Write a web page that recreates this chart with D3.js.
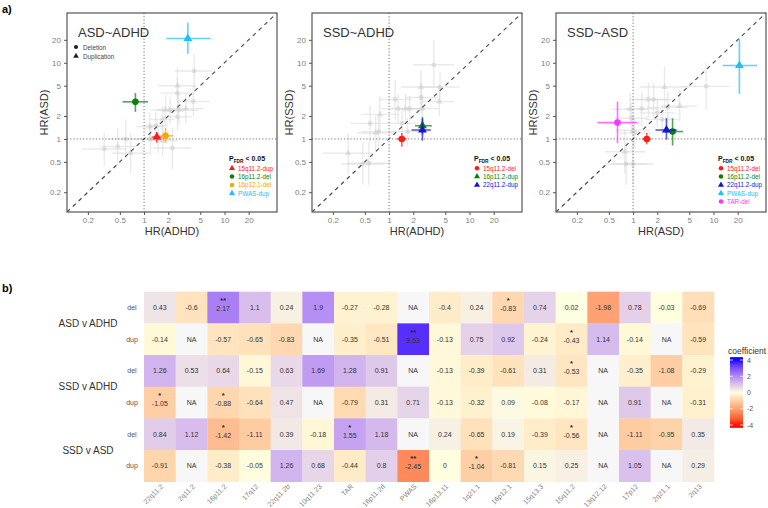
<!DOCTYPE html>
<html><head><meta charset="utf-8">
<script src="https://cdn.jsdelivr.net/npm/d3@7"></script>
<style>body{margin:0;background:#fff}svg{font-family:"Liberation Sans",Arial,sans-serif}</style>
</head><body><svg id="c" width="768" height="508"></svg>
<script>
// ---------------- DATA ----------------
const hrTicks = [0.2, 0.5, 1, 2, 5, 10, 20];
const panelTitles = ["ASD~ADHD", "SSD~ADHD", "SSD~ASD"];
const panelXLabels = ["HR(ADHD)", "HR(ADHD)", "HR(ASD)"];
const panelYLabels = ["HR(ASD)", "HR(SSD)", "HR(SSD)"];

// highlighted CNVs (P_FDR < 0.05): [name, colour, shape, x, xlo, xhi, y, ylo, yhi]
const sig1 = [
  ["15q11.2-dup", "#ff1a1a", "tri", 1.44, 1.25, 1.66, 1.06, 0.89, 1.23],
  ["16p11.2-del", "#0a800a", "circ", 0.78, 0.54, 1.12, 3.07, 2.27, 4.0],
  ["16p12.1-del", "#ffa500", "circ", 1.85, 1.6, 2.3, 1.1, 0.89, 1.4],
  ["PWAS-dup", "#1ec0f5", "tri", 3.5, 1.9, 6.7, 20.8, 13.1, 33.6]
];
const sig2 = [
  ["15q11.2-del", "#ff1a1a", "circ", 1.44, 1.25, 1.65, 1.0, 0.79, 1.2],
  ["16p11.2-dup", "#0a800a", "tri", 2.6, 2.1, 3.4, 1.49, 1.13, 1.95],
  ["22q11.2-dup", "#1515d0", "tri", 2.6, 1.9, 3.3, 1.31, 0.95, 1.85]
];
const sig3 = [
  ["15q11.2-del", "#ff1a1a", "circ", 1.48, 1.3, 1.7, 1.0, 0.85, 1.2],
  ["16p11.2-del", "#0a800a", "circ", 3.1, 2.4, 4.2, 1.25, 0.82, 1.87],
  ["22q11.2-dup", "#1515d0", "tri", 2.6, 1.9, 3.5, 1.31, 0.98, 1.88],
  ["PWAS-dup", "#1ec0f5", "tri", 21, 13, 35, 9.2, 3.9, 20.5],
  ["TAR-del", "#ff33ff", "circ", 0.64, 0.36, 1.14, 1.64, 0.88, 3.1]
];
// other CNVs (grey): [x, xlo, xhi, y, ylo, yhi]
const grey1 = [
  [4.2,2.4,7.0,7.8,4.5,13],[2.6,1.5,4.5,5.0,3.0,8.5],[2.6,1.6,4.2,4.0,2.5,6.5],
  [4.1,2.6,6.5,3.1,2.0,5.0],[1.85,1.2,2.8,2.4,1.5,3.8],[2.1,1.4,3.2,2.4,1.6,3.6],
  [2.7,1.5,4.8,2.4,1.5,3.9],[3.3,2.0,5.5,2.5,1.6,4.0],[2.6,1.7,3.9,1.95,1.3,2.9],
  [1.7,1.2,2.4,1.8,1.2,2.7],[1.18,0.8,1.7,1.45,0.95,2.2],[1.4,1.0,2.0,1.5,1.0,2.3],
  [1.2,0.8,1.8,1.0,0.6,1.6],[1.5,1.0,2.2,1.0,0.65,1.55],[2.25,1.3,3.9,0.76,0.4,1.4],
  [0.59,0.35,1.0,1.0,0.55,1.8],[0.47,0.28,0.8,0.8,0.45,1.4],[0.32,0.17,0.6,0.74,0.45,1.2],
  [0.68,0.4,1.15,0.65,0.35,1.2],[1.7,1.1,2.6,0.95,0.6,1.5]
];
const grey2 = [
  [3.6,2.0,6.5,9.4,5.0,20],[2.5,1.4,4.5,4.8,2.8,8.0],[4.3,2.6,7.5,4.8,3.0,7.5],
  [2.5,1.6,4.0,3.5,2.2,5.5],[4.2,2.6,6.5,3.1,2.0,4.8],[1.19,0.75,1.9,3.3,1.8,6.0],
  [1.3,0.8,2.1,2.5,1.6,3.9],[1.6,1.0,2.5,2.5,1.6,3.9],[1.8,1.2,2.8,2.5,1.7,3.7],
  [2.6,1.6,4.2,2.5,1.6,3.8],[0.77,0.45,1.3,2.1,1.2,3.6],[0.58,0.33,1.0,1.6,0.9,2.8],
  [0.74,0.45,1.2,1.25,0.75,2.1],[0.68,0.4,1.15,1.2,0.7,2.0],[1.7,1.1,2.6,1.25,0.8,1.9],
  [1.45,0.95,2.2,1.6,1.05,2.4],[0.31,0.15,0.65,0.65,0.35,1.2],[0.56,0.3,1.05,0.48,0.25,0.9],
  [0.47,0.25,0.9,0.47,0.25,0.9]
];
const grey3 = [
  [8.1,4.0,16,4.9,2.4,10],[2.46,1.2,5.0,4.8,2.6,9.0],[1.55,0.9,2.7,3.3,1.9,5.5],
  [1.8,1.05,3.0,3.3,2.0,5.4],[0.92,0.55,1.55,2.46,1.5,4.0],[1.28,0.8,2.1,2.5,1.5,4.1],
  [2.7,1.5,4.8,2.6,1.6,4.2],[3.8,2.3,6.3,2.7,1.7,4.3],[0.96,0.6,1.55,1.87,1.15,3.0],
  [2.0,1.2,3.3,2.2,1.4,3.4],[1.0,0.6,1.6,1.3,0.8,2.1],[1.05,0.65,1.7,1.2,0.75,1.9],
  [2.3,1.4,3.7,1.8,1.15,2.8],[0.79,0.45,1.4,0.68,0.35,1.3],[0.82,0.45,1.5,0.47,0.25,0.9],
  [1.0,0.55,1.8,0.47,0.25,0.9]
];

// heatmap
const heatCols = ["22q11.2","2q11.2","16p11.2","17q12","22q11.2b","10q11.23","TAR","16p11.2d","PWAS","16p13.11","1q21.1","16p12.1","15q13.3","15q11.2","13q12.12","17p12","2q21.1","2q13"];
const heatGroups = ["ASD v ADHD", "SSD v ADHD", "SSD v ASD"];
const heatTypes = ["del", "dup"];
const heatRow1 = [0.43,-0.6,2.17,1.1,0.24,1.9,-0.27,-0.28,null,-0.4,0.24,-0.83,0.74,0.02,-1.98,0.78,-0.03,-0.69];
const heatRow2 = [-0.14,null,-0.57,-0.65,-0.83,null,-0.35,-0.51,3.53,-0.13,0.75,0.92,-0.24,-0.43,1.14,-0.14,null,-0.59];
const heatRow3 = [1.26,0.53,0.64,-0.15,0.63,1.69,1.28,0.91,null,-0.13,-0.39,-0.61,0.31,-0.53,null,-0.35,-1.08,-0.29];
const heatRow4 = [-1.05,null,-0.88,-0.64,0.47,null,-0.79,0.31,0.71,-0.13,-0.32,0.09,-0.08,-0.17,null,0.91,null,-0.31];
const heatRow5 = [0.84,1.12,-1.42,-1.11,0.39,-0.18,1.55,1.18,null,0.24,-0.65,0.19,-0.39,-0.56,null,-1.11,-0.95,0.35];
const heatRow6 = [-0.91,null,-0.38,-0.05,1.26,0.68,-0.44,0.8,-2.45,0,-1.04,-0.81,0.15,0.25,null,1.05,null,0.29];
const starRow1 = ["","","**","","","","","","","","","*","","","","","",""];
const starRow2 = ["","","","","","","","","**","","","","","*","","","",""];
const starRow3 = ["","","","","","","","","","","","","","*","","","",""];
const starRow4 = ["*","","*","","","","","","","","","","","","","","",""];
const starRow5 = ["","","*","","","","*","","","","","","","*","","","",""];
const starRow6 = ["","","","","","","","","**","","*","","","","","","",""];
const legendTicks = [4, 2, 0, -2, -4];

// ---------------- DRAW ----------------
const svg = d3.select("#c");
svg.append("text").attr("x", 2).attr("y", 13).attr("font-size", 11).attr("font-weight", "bold").text("a)");
svg.append("text").attr("x", 2).attr("y", 292).attr("font-size", 11).attr("font-weight", "bold").text("b)");

const panelLeft = [67, 312, 556];
const pTop = 13, pBot = 212, pW = 210;
const sigs = [sig1, sig2, sig3], greys = [grey1, grey2, grey3];
const dom = [0.11, 45];

function sym(shape, size) {
  return d3.symbol().type(shape === "tri" ? d3.symbolTriangle : d3.symbolCircle).size(size)();
}

panelLeft.forEach((L, pi) => {
  const x = d3.scaleLog().domain(dom).range([L, L + pW]);
  const y = d3.scaleLog().domain(dom).range([pBot, pTop]);
  const g = svg.append("g");
  const clipId = "clip" + pi;
  svg.append("clipPath").attr("id", clipId).append("rect").attr("x", L).attr("y", pTop).attr("width", pW).attr("height", pBot - pTop);
  const inner = g.append("g").attr("clip-path", `url(#${clipId})`);

  greys[pi].forEach((d, i) => {
    inner.append("line").attr("x1", x(d[1])).attr("x2", x(d[2])).attr("y1", y(d[3])).attr("y2", y(d[3]))
      .attr("stroke", "#d9d9d9").attr("stroke-opacity", 0.55).attr("stroke-width", 1.4);
    inner.append("line").attr("x1", x(d[0])).attr("x2", x(d[0])).attr("y1", y(d[4])).attr("y2", y(d[5]))
      .attr("stroke", "#d9d9d9").attr("stroke-opacity", 0.55).attr("stroke-width", 1.4);
  });
  greys[pi].forEach((d, i) => {
    inner.append("path").attr("d", sym(i % 3 === 1 ? "tri" : "circ", 18))
      .attr("transform", `translate(${x(d[0])},${y(d[3])})`).attr("fill", "#cfcfcf").attr("fill-opacity", 0.6);
  });

  inner.append("line").attr("x1", x(1)).attr("x2", x(1)).attr("y1", pTop).attr("y2", pBot)
    .attr("stroke", "#666").attr("stroke-width", 0.9).attr("stroke-dasharray", "1.2,2");
  inner.append("line").attr("x1", L).attr("x2", L + pW).attr("y1", y(1)).attr("y2", y(1))
    .attr("stroke", "#666").attr("stroke-width", 0.9).attr("stroke-dasharray", "1.2,2");
  inner.append("line").attr("x1", x(dom[0])).attr("y1", y(dom[0])).attr("x2", x(dom[1])).attr("y2", y(dom[1]))
    .attr("stroke", "#444").attr("stroke-width", 1.1).attr("stroke-dasharray", "4,4");

  sigs[pi].forEach(d => {
    inner.append("line").attr("x1", x(d[4])).attr("x2", x(d[5])).attr("y1", y(d[6])).attr("y2", y(d[6]))
      .attr("stroke", d[1]).attr("stroke-opacity", 0.7).attr("stroke-width", 1.6);
    inner.append("line").attr("x1", x(d[3])).attr("x2", x(d[3])).attr("y1", y(d[7])).attr("y2", y(d[8]))
      .attr("stroke", d[1]).attr("stroke-opacity", 0.7).attr("stroke-width", 1.6);
    inner.append("path").attr("d", sym(d[2], 34)).attr("transform", `translate(${x(d[3])},${y(d[6])})`).attr("fill", d[1]);
  });

  g.append("rect").attr("x", L).attr("y", pTop).attr("width", pW).attr("height", pBot - pTop)
    .attr("fill", "none").attr("stroke", "#555").attr("stroke-width", 1.2);

  const fmt = d => String(d);
  const ax = g.append("g").attr("transform", `translate(0,${pBot})`)
    .call(d3.axisBottom(x).tickValues(hrTicks).tickFormat(fmt).tickSize(3).tickPadding(2));
  const ay = g.append("g").attr("transform", `translate(${L},0)`)
    .call(d3.axisLeft(y).tickValues(hrTicks).tickFormat(fmt).tickSize(3).tickPadding(3));
  [ax, ay].forEach(a => {
    a.select(".domain").remove();
    a.selectAll(".tick line").attr("stroke", "#555");
    a.selectAll(".tick text").attr("fill", "#808080").attr("font-size", 8).attr("font-family", "Liberation Sans, Arial, sans-serif");
  });

  g.append("text").attr("x", L + pW / 2).attr("y", 235).attr("text-anchor", "middle")
    .attr("font-size", 11).attr("fill", "#333").text(panelXLabels[pi]);
  g.append("text").attr("transform", `translate(${L - 19},${(pTop + pBot) / 2}) rotate(-90)`).attr("text-anchor", "middle")
    .attr("font-size", 11).attr("fill", "#333").text(panelYLabels[pi]);

  g.append("text").attr("x", L + 11).attr("y", 37).attr("font-size", 13).attr("fill", "#333").text(panelTitles[pi]);

  if (pi === 0) {
    g.append("path").attr("d", sym("circ", 14)).attr("transform", `translate(${L + 9},47)`).attr("fill", "#222");
    g.append("text").attr("x", L + 16).attr("y", 49.5).attr("font-size", 6.3).attr("fill", "#444").text("Deletion");
    g.append("path").attr("d", sym("tri", 14)).attr("transform", `translate(${L + 9},56)`).attr("fill", "#222");
    g.append("text").attr("x", L + 16).attr("y", 58.5).attr("font-size", 6.3).attr("fill", "#444").text("Duplication");
  }

  const lx = L + 162;
  const t = g.append("text").attr("x", lx).attr("y", 161).attr("font-size", 7).attr("font-weight", "bold").attr("fill", "#111");
  t.append("tspan").text("P");
  t.append("tspan").attr("font-size", 4.8).attr("dy", 1.5).text("FDR");
  t.append("tspan").attr("dy", -1.5).text(" < 0.05");
  sigs[pi].forEach((d, i) => {
    const cy = 168.3 + i * 8.3;
    g.append("path").attr("d", sym(d[2], 16)).attr("transform", `translate(${lx + 3},${cy})`).attr("fill", d[1]);
    g.append("text").attr("x", lx + 9).attr("y", cy + 2.3).attr("font-size", 6.3).attr("fill", d[1]).text(d[0]);
  });
});

// ---------------- HEATMAP ----------------
const heatVals = [heatRow1, heatRow2, heatRow3, heatRow4, heatRow5, heatRow6];
const heatStars = [starRow1, starRow2, starRow3, starRow4, starRow5, starRow6];
const rowKeys = d3.range(6);
const hx = d3.scaleBand().domain(heatCols).range([144, 714]);
const hy = d3.scaleBand().domain(rowKeys).range([291.7, 481.7]);
const color = d3.scaleLinear().domain([-4, 0, 4]).range(["#ff0000", "#ffffe0", "#0000ff"]).interpolate(d3.interpolateLab).clamp(true);

const hg = svg.append("g");
heatVals.forEach((row, ri) => {
  row.forEach((v, ci) => {
    const cx = hx(heatCols[ci]), cy = hy(ri);
    hg.append("rect").attr("x", cx).attr("y", cy).attr("width", hx.bandwidth() + 0.3).attr("height", hy.bandwidth() + 0.3)
      .attr("fill", v === null ? "#f7f7f7" : color(v));
    const mx = cx + hx.bandwidth() / 2, my = cy + hy.bandwidth() / 2;
    const starred = !!heatStars[ri][ci];
    hg.append("text").attr("x", mx).attr("y", my + (starred ? 3.5 : 2.5)).attr("text-anchor", "middle").attr("font-size", 7)
      .attr("fill", "#333").text(v === null ? "NA" : String(v));
    if (starred) {
      hg.append("text").attr("x", mx).attr("y", my - 4.5).attr("text-anchor", "middle").attr("font-size", 7.5)
        .attr("font-weight", "bold").attr("fill", "#222").text(heatStars[ri][ci]);
    }
  });
});
rowKeys.forEach(ri => {
  hg.append("text").attr("x", 132).attr("y", hy(ri) + hy.bandwidth() / 2 + 2.5).attr("text-anchor", "middle")
    .attr("font-size", 7).attr("fill", "#555").text(heatTypes[ri % 2]);
});
heatGroups.forEach((gname, gi) => {
  hg.append("text").attr("x", 88).attr("y", hy(gi * 2) + hy.bandwidth() + 3.5).attr("text-anchor", "middle")
    .attr("font-size", 10).attr("fill", "#333").text(gname);
});
heatCols.forEach(c => {
  const mx = hx(c) + hx.bandwidth() / 2 + 4;
  hg.append("text").attr("transform", `translate(${mx},487) rotate(-45)`).attr("text-anchor", "end")
    .attr("font-size", 7).attr("fill", "#808080").text(c);
});

const ly = d3.scaleLinear().domain([4, -4]).range([360, 425]);
const defs = svg.append("defs");
const grad = defs.append("linearGradient").attr("id", "cg").attr("x1", 0).attr("y1", 0).attr("x2", 0).attr("y2", 1);
const gTop = 4.35, gBot = -4.35;
d3.range(0, 21).forEach(i => {
  const v = gTop + (gBot - gTop) * i / 20;
  grad.append("stop").attr("offset", (i / 20)).attr("stop-color", color(v));
});
svg.append("text").attr("x", 728).attr("y", 354).attr("font-size", 8.5).attr("fill", "#333").text("coefficient");
svg.append("rect").attr("x", 730).attr("y", ly(gTop)).attr("width", 13).attr("height", ly(gBot) - ly(gTop)).attr("fill", "url(#cg)");
legendTicks.forEach(v => {
  svg.append("line").attr("x1", 730).attr("x2", 733).attr("y1", ly(v)).attr("y2", ly(v)).attr("stroke", "#fff").attr("stroke-width", 0.7);
  svg.append("line").attr("x1", 740).attr("x2", 743).attr("y1", ly(v)).attr("y2", ly(v)).attr("stroke", "#fff").attr("stroke-width", 0.7);
  svg.append("text").attr("x", 747).attr("y", ly(v) + 2.5).attr("font-size", 7).attr("fill", "#555").text(String(v));
});
</script></body></html>
